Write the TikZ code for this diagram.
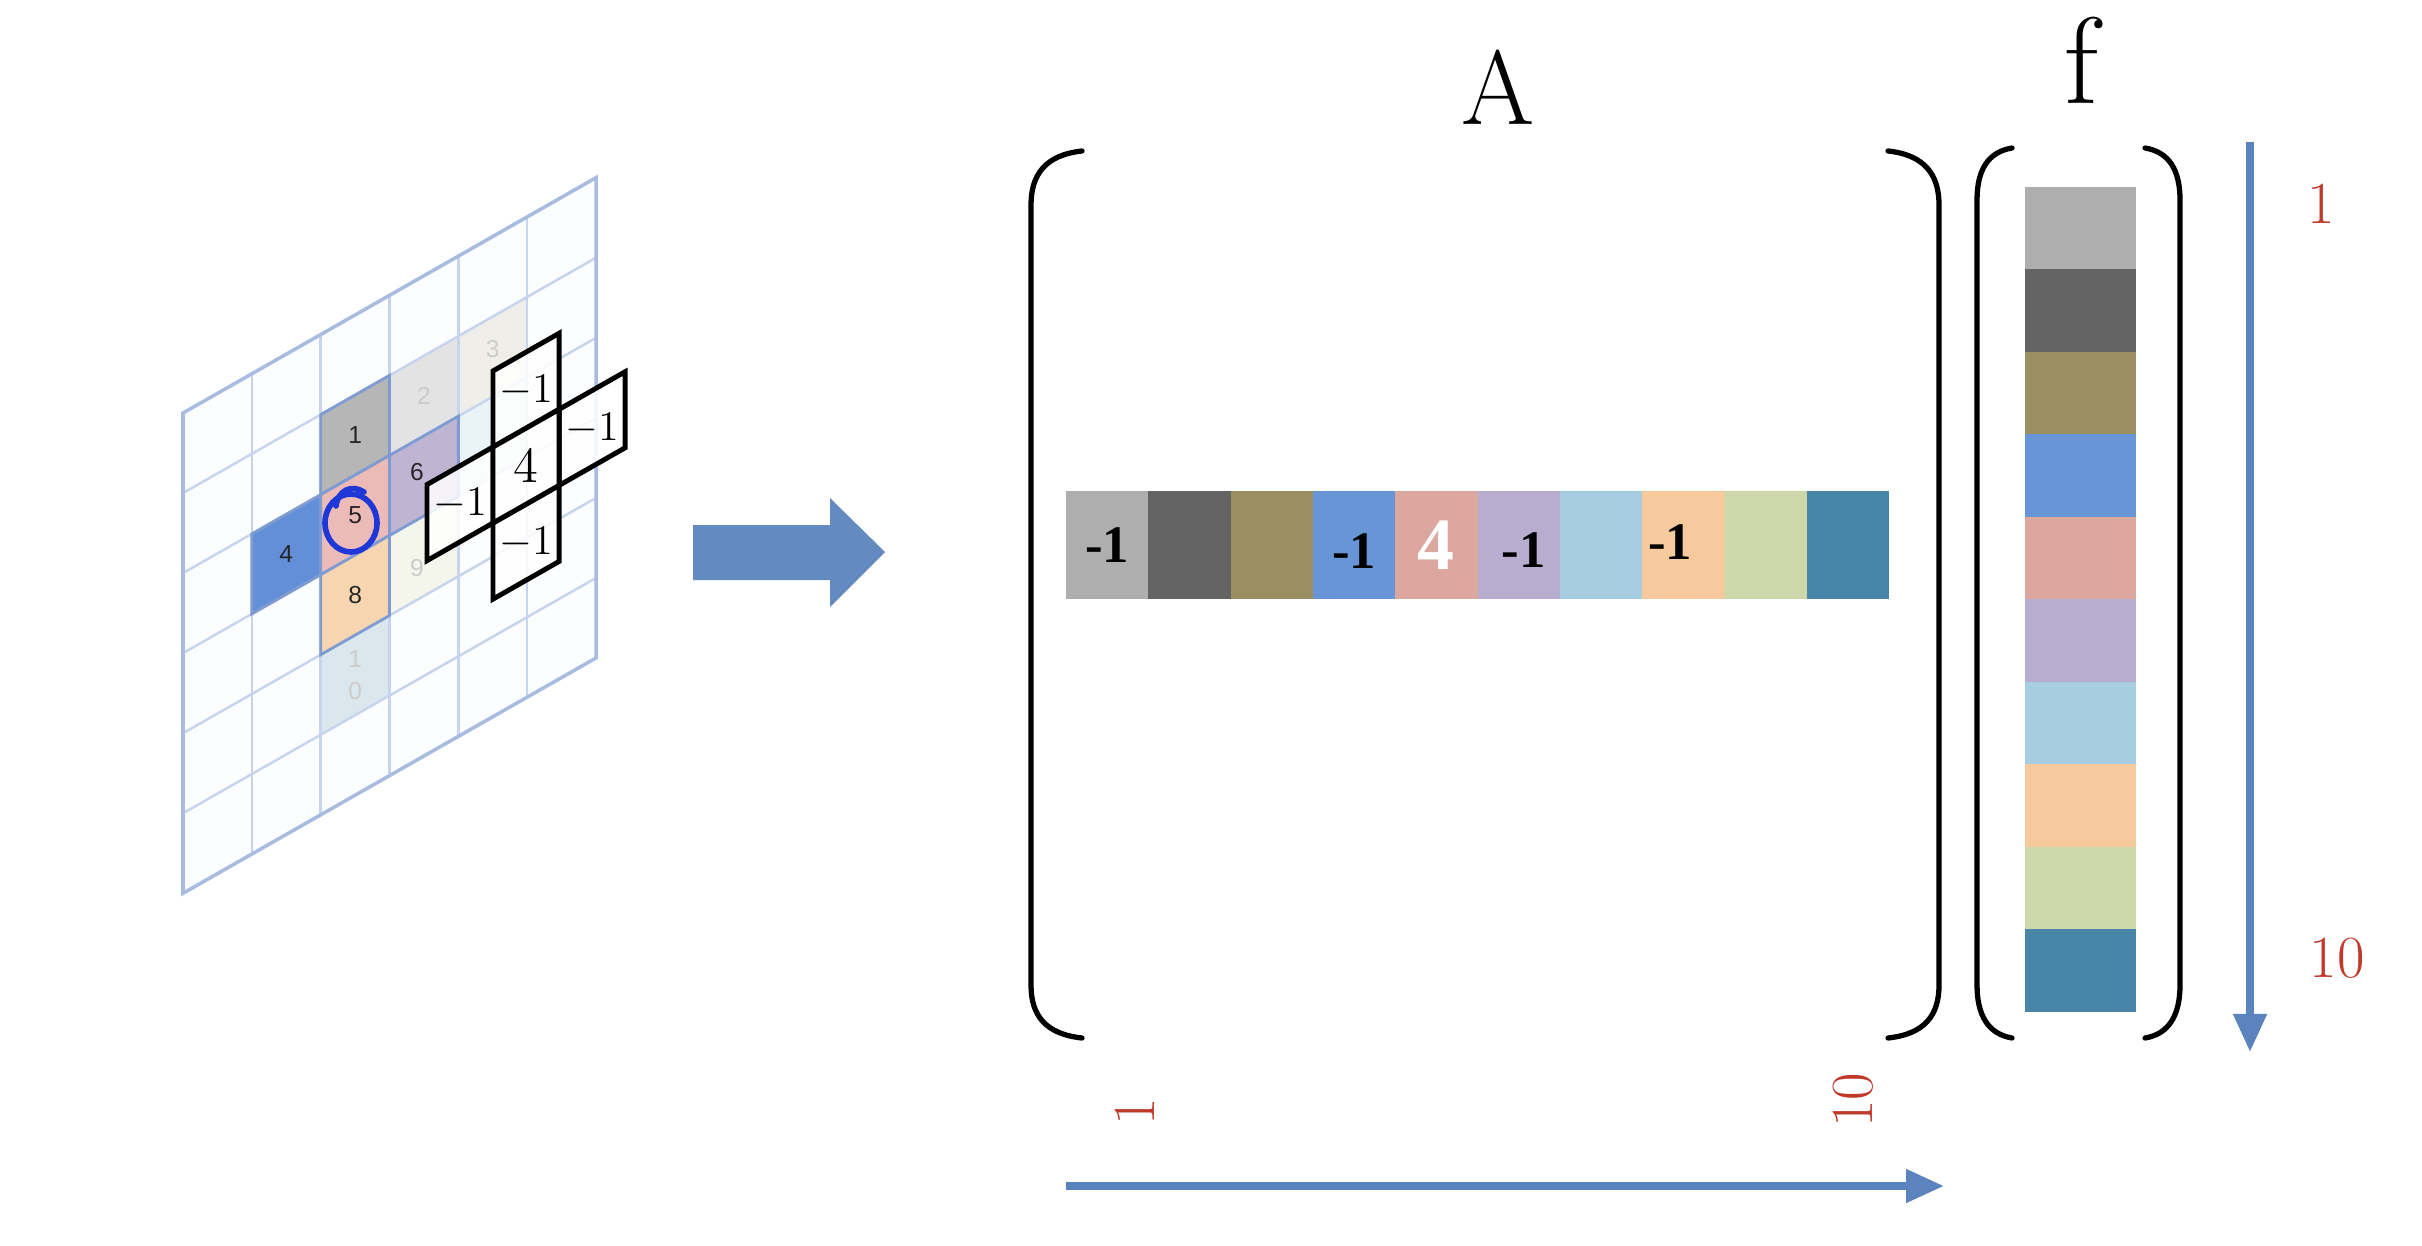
\documentclass[tikz,border=0pt]{standalone}
\usepackage{fontspec}
\usepackage{tikz}
\usetikzlibrary{arrows.meta}

\newfontfamily\rowfont{Liberation Serif}
\newfontfamily\gridfont{Liberation Sans}

% colours of the ten unknowns
\definecolor{fc1}{HTML}{AEAEAE}
\definecolor{fc2}{HTML}{636363}
\definecolor{fc3}{HTML}{9B8F62}
\definecolor{fc4}{HTML}{6895D6}
\definecolor{fc5}{HTML}{DCA79E}
\definecolor{fc6}{HTML}{B8ADCE}
\definecolor{fc7}{HTML}{A6CDE1}
\definecolor{fc8}{HTML}{F6CA9D}
\definecolor{fc9}{HTML}{CDD7AA}
\definecolor{fc10}{HTML}{4786A6}
\definecolor{arrowblue}{HTML}{5B84BE}
\definecolor{gridbg}{HTML}{FCFDFF}
\definecolor{gridblue}{HTML}{C6D4EF}
\definecolor{gridedge}{HTML}{A8BCE2}
\definecolor{hlborder}{HTML}{7F9CD2}
\definecolor{idxred}{HTML}{C0392B}
\definecolor{penblue}{HTML}{1F37D6}

% one sheared cell of a grid, top left corner at (#1,#2)
\newcommand{\gridcell}[2]{(#1,#2) -- ++(1,0) -- ++(0,1) -- ++(-1,0) -- cycle}

\begin{document}
\begin{tikzpicture}[x=0.01cm, y=-0.01cm,
    gridline/.style={gridblue, line width=0.7pt},
    gridframe/.style={gridedge, line width=1pt},
    hlcell/.style={draw=hlborder, line width=0.8pt},
    gnum/.style={font=\gridfont\scriptsize, text=black!85, inner sep=0pt},
    fadednum/.style={font=\gridfont\scriptsize, text=black!20, inner sep=0pt, align=center},
    stencil/.style={draw=black, line width=1.4pt, fill=white, fill opacity=0.85},
    snum/.style={font=\fontsize{11.5}{12}\selectfont, inner sep=0pt},
    rowcell/.style={minimum width=0.823cm, minimum height=1.08cm, inner sep=0pt, outer sep=0pt},
    fcell/.style={minimum width=1.11cm, minimum height=0.825cm, inner sep=0pt, outer sep=0pt},
    rownum/.style={font=\rowfont\bfseries\fontsize{15}{16}\selectfont, inner sep=0pt},
    bracket/.style={line width=1.5pt, line cap=round},
    pen/.style={penblue, line width=1.6pt, line cap=round},
    idxarrow/.style={arrowblue, line width=2.2pt, -{Triangle[length=0.38cm, width=0.32cm]}},
    idx/.style={text=idxred, font=\fontsize{17}{18}\selectfont, inner sep=0pt},
    title/.style={font=\fontsize{30}{32}\selectfont, inner sep=0pt}]

\useasboundingbox (0,0) rectangle (2422,1246);

% the grid of the domain
\coordinate (gridTL) at (183,413);
\begin{scope}[shift={(gridTL)}, x={(0.688cm,0.392cm)}, y={(0cm,-0.8cm)}]
  \fill[gridbg] (0,0) -- (6,0) -- (6,6) -- (0,6) -- cycle;
  % faded cells
  \fill[fc2!18] \gridcell{3}{1};
  \fill[fc3!15] \gridcell{4}{1};
  \fill[fc7!25] \gridcell{4}{2};
  \fill[fc9!22] \gridcell{3}{3};
  \fill[fc10!20] \gridcell{2}{4};
  \foreach \i in {1,...,5} {
    \draw[gridline] (\i,0) -- (\i,6);
    \draw[gridline] (0,\i) -- (6,\i);
  }
  \draw[gridframe] (0,0) -- (6,0) -- (6,6) -- (0,6) -- cycle;
  % the five-point star around 5
  \filldraw[hlcell, fill=fc1!90!white] \gridcell{2}{1};
  \filldraw[hlcell, fill=fc4!95!blue] \gridcell{1}{2};
  \filldraw[hlcell, fill=fc5!85!red!60!white] \gridcell{2}{2};
  \filldraw[hlcell, fill=fc6!90!white] \gridcell{3}{2};
  \filldraw[hlcell, fill=fc8!80!white] \gridcell{2}{3};
  \node[gnum] (n1) at (2.5,1.5) {1};
  \node[fadednum] (n2) at (3.5,1.5) {2};
  \node[fadednum] (n3) at (4.5,1.4) {3};
  \node[gnum] (n4) at (1.5,2.5) {4};
  \node[gnum] (n5) at (2.5,2.5) {5};
  \node[gnum] (n6) at (3.4,2.4) {6};
  \node[gnum] (n8) at (2.5,3.5) {8};
  \node[fadednum] (n9) at (3.4,3.6) {9};
  \node[fadednum] (n10) at (2.5,4.5) {1\\[1pt]0};
\end{scope}

% pen ring round 5
\draw[pen] (351,523) ellipse [x radius=26, y radius=29];
\draw[pen] (336,506) .. controls (338,490) and (352,484) .. (364,492);

% the stencil
\coordinate (stencilTL) at (493,447);
\begin{scope}[shift={(stencilTL)}, x={(0.66cm,0.376cm)}, y={(0cm,-0.76cm)}]
  \foreach \u/\v in {0/-1,0/1,-1/0,1/0,0/0}
    \filldraw[stencil] \gridcell{\u}{\v};
  \node[snum, font=\Large] (sc) at (0.5,0.5) {$4$};
  \node[snum] (st) at (0.5,-0.5) {$-1$};
  \node[snum] (sb) at (0.5,1.5) {$-1$};
  \node[snum] (sl) at (-0.5,0.5) {$-1$};
  \node[snum] (sr) at (1.5,0.5) {$-1$};
\end{scope}

% block arrow
\fill[arrowblue!95!white] (693,525) -- (830,525) -- (830,498) -- (885,552)
  -- (830,607) -- (830,580) -- (693,580) -- cycle;

% matrix A
\node[title] (titleA) at (1498,87) {A};
\draw[bracket] (1082,151) .. controls (1045,155) and (1031,175) .. (1031,205)
  -- (1031,985) .. controls (1031,1015) and (1045,1034) .. (1082,1038);
\draw[bracket] (1888,151) .. controls (1925,155) and (1939,175) .. (1939,205)
  -- (1939,985) .. controls (1939,1015) and (1925,1034) .. (1888,1038);
\foreach \i in {1,...,10}
  \node[rowcell, fill=fc\i] (a\i) at ({1066+82.3*(\i-0.5)},545) {};
\node[rownum] (r1) at (a1) {-1};
\node[rownum] (r4) at ([yshift=-0.06cm]a4) {-1};
\node[rownum, text=white, font=\rowfont\bfseries\fontsize{21}{22}\selectfont] (r5) at (a5) {4};
\node[rownum] (r6) at ([xshift=0.05cm, yshift=-0.05cm]a6) {-1};
\node[rownum] (r8) at ([xshift=-0.13cm, yshift=0.03cm]a8) {-1};

% vector f
\node[title, font=\fontsize{35}{36}\selectfont] (titlef) at (2081,60) {f};
\draw[bracket] (2012,148) .. controls (1988,152) and (1977,170) .. (1977,200)
  -- (1977,985) .. controls (1977,1015) and (1988,1034) .. (2012,1038);
\draw[bracket] (2145,148) .. controls (2169,152) and (2180,170) .. (2180,200)
  -- (2180,985) .. controls (2180,1015) and (2169,1034) .. (2145,1038);
\foreach \i in {1,...,10}
  \node[fcell, fill=fc\i] (f\i) at (2080.5,{187+82.5*(\i-0.5)}) {};

% index arrows
\coordinate (rowStart) at (2250,142);
\coordinate (rowEnd) at (2250,1052);
\draw[idxarrow] (rowStart) -- (rowEnd);
\node[idx] (top1) at (2321,204) {1};
\node[idx] (top10) at (2337,958) {10};

\coordinate (colStart) at (1066,1186);
\coordinate (colEnd) at (1944,1186);
\draw[idxarrow] (colStart) -- (colEnd);
\node[idx, rotate=90] (low1) at (1135,1112) {1};
\node[idx, rotate=90] (low10) at (1853,1100) {10};

\end{tikzpicture}
\end{document}
